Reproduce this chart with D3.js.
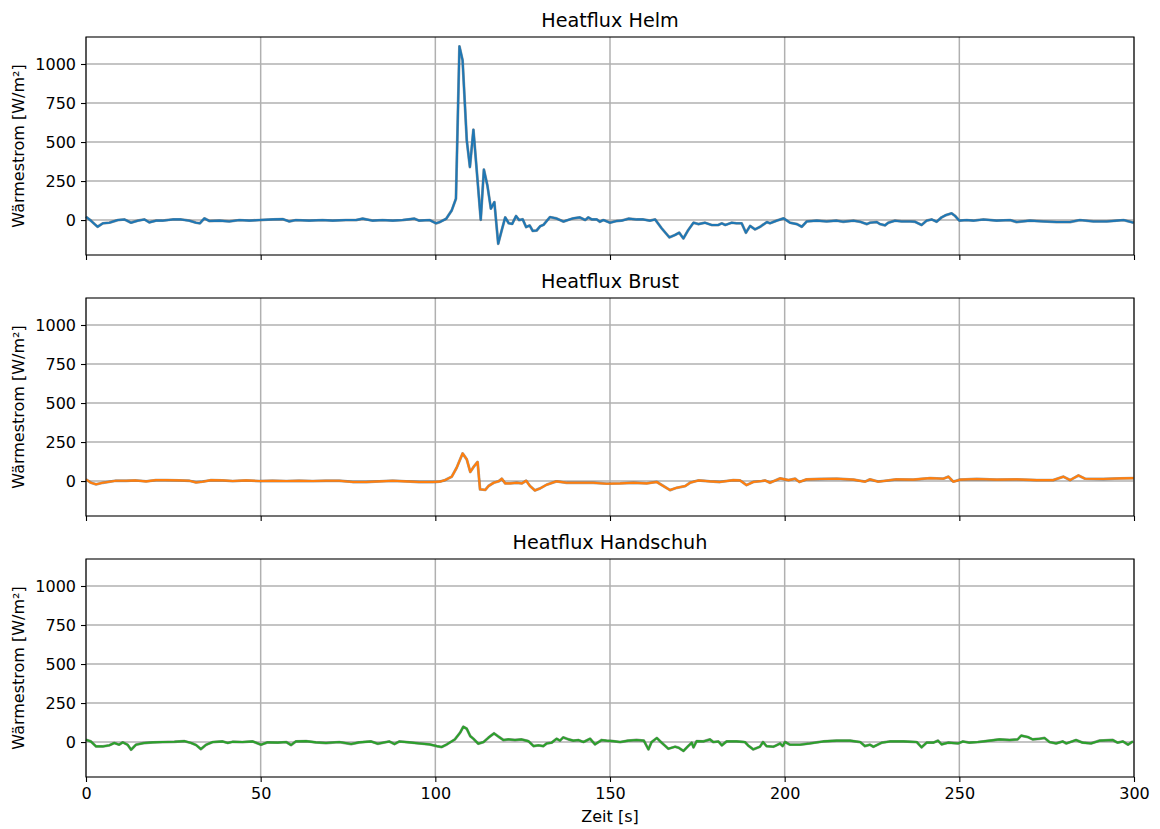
<!DOCTYPE html>
<html><head><meta charset="utf-8">
<script src="https://cdn.jsdelivr.net/npm/d3@7"></script>
<style>
body{margin:0;background:#fff;}
svg text{font-family:"DejaVu Sans",sans-serif;fill:#000;}
</style></head>
<body><svg id="c" width="1160" height="829"></svg>
<script>
// ---- data (time in s, heat flux in W/m²) ----
const titles = ["Heatflux Helm", "Heatflux Brust", "Heatflux Handschuh"];
const colors = ["#1f77b4", "#ff7f0e", "#2ca02c"];
const xTicks = [0, 50, 100, 150, 200, 250, 300];
const yTicks = [0, 250, 500, 750, 1000];

const helmT = [0,1.4,3.3,4.8,6.7,9.1,11,12.9,14.8,16.7,18.1,20,21.9,24.8,27.2,29.6,31.5,32.6,33.9,35.3,38.2,41,43.9,46.8,49.6,53.4,56.3,58.2,60.1,63.9,67.7,70.6,74.4,77.3,79.2,82.1,84.9,87.8,90.6,94,95.4,98.3,100.2,101.3,103.1,104.7,105.9,106.9,107.8,109,109.9,110.9,113,113.9,114.9,115.9,116.9,118,119,120,121,122,123.1,124,125,126,127,127.9,129,130,131,132.8,134.7,136.7,138.6,139.5,141.4,142.9,143.8,144.8,146.2,147.1,148.1,150,151.9,153.3,155.3,157.6,159.5,161.4,162.9,164.8,167,168.6,169.8,171,172.4,173.9,175.3,177.2,179.1,181,182,183,184.8,186.2,187.7,188.9,190.1,191.5,193,194.9,195.8,197.7,199.7,201.5,203.5,204.9,206.3,209.2,212,214.9,216.8,219.7,221.6,223.5,224.4,226.4,227.3,228.7,229.7,231.6,233.5,235.9,237.3,239.2,240.6,242.1,243.5,244.9,246.2,247.8,248.8,250,252.1,254,256.9,260.7,264.5,266.4,270.2,274,277.9,281.7,284.5,288.4,292.2,295.1,297,299.9];
const helmV = [21,-4,-43,-21,-17,0,4,-17,-4,4,-15,-4,-4,4,4,-4,-17,-21,11,-6,-4,-9,0,-4,0,4,6,-9,0,-4,0,-4,0,0,9,-4,0,-4,0,9,-4,0,-21,-13,8,62,137,1113,1024,511,340,579,2,323,222,73,115,-152,-66,17,-20,-25,26,0,5,-45,-35,-70,-67,-40,-30,19,10,-10,5,11,17,0,17,4,4,-11,0,-17,-6,-4,9,4,4,-4,4,-53,-111,-96,-81,-118,-64,-17,-26,-17,-32,-32,-21,-32,-17,-21,-21,-81,-38,-60,-43,-13,-21,-4,11,-17,-26,-43,-9,-4,-9,-4,-11,-4,-11,-26,-17,-13,-26,-34,-17,-4,-9,-9,-11,-32,-4,4,-11,17,32,43,26,-4,0,-4,4,-4,0,-13,-4,-9,-13,-13,0,-9,-9,-4,0,-17];

const brustT = [0,1.4,2.9,4.8,8.6,11.5,14.3,17.2,20,22.9,26.7,29.6,31.5,33.4,35.8,39.1,42,45.8,49.6,53.4,57.3,61,64.9,68.7,72.5,76.3,80.2,84,87.8,91.6,95.4,99.2,101.3,102.8,104.7,106.1,107.8,109,110,111,112.1,112.8,114.3,115.2,116.7,118.1,119,120,121.4,123.3,124.8,126,127.1,128.5,130,131.9,134.7,137.6,141.4,145.2,149,152.9,156.7,160.5,163.4,165.3,167.2,169.1,171.5,172.9,175.3,176.7,178.6,181.5,185.3,187.2,189.1,191,193.4,194.4,195.8,198.7,201.1,203,204.2,206.3,210.1,214.9,219.7,223,224.4,226.8,232,236.8,241.6,245.4,246.9,248.3,250.2,255,260.7,266.4,272.2,276.9,279.8,281.7,284.1,286,291.2,296,299.9];
const brustV = [11,-11,-21,-11,2,2,4,-2,6,6,4,2,-9,-4,6,4,0,4,0,2,0,2,0,2,2,-6,-6,-2,2,-2,-6,-6,-4,6,28,85,177,139,58,92,122,-53,-57,-32,-11,-2,15,-15,-15,-11,-15,2,-32,-60,-47,-23,-2,-11,-11,-11,-17,-15,-11,-15,-6,-32,-58,-43,-32,-11,4,2,-2,-6,6,4,-26,-6,0,4,-11,17,6,15,-6,11,13,15,9,-4,11,-4,11,9,19,15,28,-4,9,13,9,11,6,6,28,6,36,15,13,17,19];

const handT = [0,1.4,2.9,4.8,6.7,8.1,9.5,10.5,11.9,12.9,14.3,16.7,19.1,21.9,25.3,28.1,30.1,31.5,32.9,34.4,36.3,39.1,40.6,42,44.8,47.7,50.1,52,54.9,57.3,58.7,60.1,63,65.8,68.7,72.5,75.9,78.2,81.6,83.5,86.8,88.3,89.7,92.6,95.4,98.3,100.4,101.8,103.3,105.6,107.1,108,109,110,110.9,112.3,113.8,115.2,116.8,118.1,119.5,120.9,122.8,124.7,126.6,128.1,129.5,130.9,131.9,133.3,134.7,135.7,136.6,138.1,139.5,140.9,142.4,144.3,145.7,147.6,149,150.9,152.9,155.2,157.6,159.7,161,161.9,163.4,164.8,166.7,168.6,169.6,171,172.4,173.4,173.9,174.8,176.7,178.6,179.6,181,182,183.4,186.2,188.6,189.5,191,192.9,193.8,194.8,196.7,197.2,198.7,199.4,200.1,201.5,204.4,207.2,211,214.9,218.7,221.6,223,224.4,225.4,227.8,230.1,234,237.8,239.2,240.6,242.5,243.9,244.9,246.8,249.6,251,252.9,255.3,258.7,261.5,264.4,266.7,267.7,269.6,271,272.9,274.4,275.8,277.7,279.6,280.6,283.4,285.3,287.7,290.1,293.9,295.3,296.8,298.3,299.7];
const handV = [15,4,-28,-28,-21,-6,-17,-2,-17,-49,-17,-6,-2,0,2,6,-6,-19,-45,-17,0,4,-6,2,0,4,-17,-2,-4,0,-19,4,6,-2,-6,0,-13,-2,4,-11,4,-13,4,-2,-9,-15,-26,-32,-15,17,60,98,85,38,21,-11,0,28,56,34,13,17,13,17,6,-26,-21,-26,-9,-4,21,9,30,17,9,13,0,21,-15,13,9,6,0,9,13,9,-47,0,26,-4,-43,-30,-36,-57,-26,-4,-34,6,4,17,0,4,-21,4,4,0,-21,-47,-30,0,-26,-30,-26,-9,-26,0,-17,-17,-9,4,9,9,0,-26,-17,-30,-4,4,4,0,-34,-4,-4,9,-15,-4,-9,4,-4,0,9,17,13,17,41,32,17,21,26,0,-9,4,-9,13,-4,-9,9,13,-4,4,-17,4];

const seriesT = [helmT, brustT, handT];
const seriesV = [helmV, brustV, handV];

// ---- layout ----
const svg = d3.select("#c");
const left = 86, right = 1134, panelH = 218;
const tops = [37, 298, 559];
const x = d3.scaleLinear().domain([0, 300]).range([left, right]);
const fs = 16;

tops.forEach((top, i) => {
  const y = d3.scaleLinear().domain([-224, 1173]).range([top + panelH, top]);
  const g = svg.append("g");
  // grid
  g.selectAll(".gx").data(xTicks).join("line")
    .attr("x1", d => x(d)).attr("x2", d => x(d))
    .attr("y1", top).attr("y2", top + panelH)
    .attr("stroke", "#b0b0b0").attr("stroke-width", 1.5);
  g.selectAll(".gy").data(yTicks).join("line")
    .attr("x1", left).attr("x2", right)
    .attr("y1", d => y(d)).attr("y2", d => y(d))
    .attr("stroke", "#b0b0b0").attr("stroke-width", 1.5);

  // data line
  const pts = seriesT[i].map((t, k) => [t, seriesV[i][k]]);
  const line = d3.line().x(d => x(d[0])).y(d => y(d[1]));
  g.append("path").datum(pts).attr("d", line)
    .attr("fill", "none").attr("stroke", "#444").attr("stroke-opacity", 0.5)
    .attr("stroke-width", 2.8).attr("stroke-linejoin", "round");
  g.append("path").datum(pts).attr("d", line)
    .attr("fill", "none").attr("stroke", colors[i])
    .attr("stroke-width", 2.1).attr("stroke-linejoin", "round");

  // axes
  const yAxis = d3.axisLeft(y).tickValues(yTicks).tickFormat(d3.format("d")).tickSize(5).tickPadding(5);
  const ya = g.append("g").attr("transform", `translate(${left},0)`).call(yAxis);
  const xAxis = d3.axisBottom(x).tickValues(xTicks).tickFormat(d3.format("d")).tickSize(5).tickPadding(6);
  const xa = g.append("g").attr("transform", `translate(0,${top + panelH})`).call(xAxis);
  if (i < 2) xa.selectAll("text").remove();
  [ya, xa].forEach(a => {
    a.select(".domain").remove();
    a.selectAll("line").attr("stroke", "#000").attr("stroke-width", 1.1);
    a.selectAll("text").attr("font-size", fs).attr("font-family", "DejaVu Sans");
  });
  // frame
  g.append("rect").attr("x", left).attr("y", top).attr("width", right - left).attr("height", panelH)
    .attr("fill", "none").attr("stroke", "#000").attr("stroke-width", 1.1);

  // title
  g.append("text").attr("x", (left + right) / 2).attr("y", top - 10)
    .attr("text-anchor", "middle").attr("font-size", 19.2).text(titles[i]);
  // y label
  g.append("text").attr("transform", `translate(24,${top + panelH / 2}) rotate(-90)`)
    .attr("text-anchor", "middle").attr("font-size", fs).text("Wärmestrom [W/m²]");
});

svg.append("text").attr("x", (left + right) / 2).attr("y", 822)
  .attr("text-anchor", "middle").attr("font-size", fs).text("Zeit [s]");
</script>
</body></html>
